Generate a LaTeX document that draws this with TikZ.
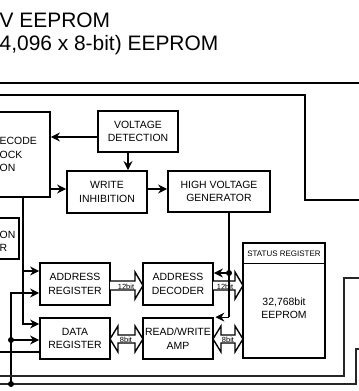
\documentclass[tikz,border=0pt]{standalone}
\usepackage{fontspec}
\setmainfont{Liberation Sans}
\usetikzlibrary{arrows.meta,calc}
\newcommand\busone[3]{%
  \draw[bus] (#1,#3-4.5) -- (#2-8,#3-4.5) -- (#2-8,#3-13.5) -- (#2,#3)
    -- (#2-8,#3+13.5) -- (#2-8,#3+4.5) -- (#1,#3+4.5);}
\newcommand\bustwo[3]{%
  \draw[bus] (#1+8,#3-4) -- (#2-8,#3-4) -- (#2-8,#3-13) -- (#2,#3)
    -- (#2-8,#3+13) -- (#2-8,#3+4) -- (#1+8,#3+4) -- (#1+8,#3+13)
    -- (#1,#3) -- (#1+8,#3-13) -- cycle;}
\begin{document}
\begin{tikzpicture}[x=1bp,y=-1bp,
  box/.style={draw,line width=1.8bp,inner sep=0,align=center,
    font=\fontsize{10.5}{13.5}\selectfont},
  txt/.style={inner sep=0,font=\fontsize{10.5}{13.5}\selectfont},
  conn/.style={line width=1.1bp},
  arr/.style={conn,-{Stealth[length=9bp,width=9bp,inset=3bp]}},
  dot/.style={circle,fill,inner sep=0,minimum size=6bp},
  bus/.style={line width=1.4bp,fill=white,line join=miter},
  lbl/.style={inner sep=0,font=\fontsize{7.5}{8}\selectfont},
  bot/.style={line width=1.3bp,black!85}]
\useasboundingbox (0,0) rectangle (359,391);
\clip (0,0) rectangle (359,391);

% title
\node[anchor=base west,inner sep=0,font=\fontsize{21}{24}\selectfont] (t1) at (-0.5,27) {V EEPROM};
\node[anchor=base west,inner sep=0,font=\fontsize{21}{24}\selectfont] (t2) at (-0.5,50) {4,096 x 8-bit) EEPROM};

% frame lines
\coordinate (f0) at (0,83); \coordinate (f1) at (359,83);
\draw[line width=1.6bp] (f0) -- (f1);
\coordinate (a0) at (0,95); \coordinate (a1) at (305,95);
\coordinate (a2) at (305,200); \coordinate (a3) at (359,200);
\draw[conn] (a0) -- (a1) -- (a2) -- (a3);

% boxes
\node[box,minimum width=90bp,minimum height=85bp] (dec) at (5,154.5) {};
\node[txt,align=left,anchor=west] (dect) at (-0.5,154.5) {ECODE\\OCK\\ON};
\node[box,minimum width=50bp,minimum height=41bp] (onr) at (-6,238.5) {};
\node[txt,align=left,anchor=west] (onrt) at (-0.5,241.5) {ON\\R};
\node[box,minimum width=80bp,minimum height=41bp] (vd) at (138,131.5) {VOLTAGE\\DETECTION};
\node[box,minimum width=80bp,minimum height=42bp] (wi) at (107,192) {WRITE\\INHIBITION};
\node[box,minimum width=102bp,minimum height=41bp] (hv) at (219,191.5) {HIGH VOLTAGE\\GENERATOR};
\node[box,minimum width=70bp,minimum height=42bp] (ar) at (75,284) {ADDRESS\\REGISTER};
\node[box,minimum width=70bp,minimum height=42bp] (ad) at (178,284) {ADDRESS\\DECODER};
\node[box,minimum width=70bp,minimum height=41bp] (dr) at (75,338.5) {DATA\\REGISTER};
\node[box,minimum width=70bp,minimum height=41bp] (rw) at (178,338.5) {READ/WRITE\\AMP};
\node[box,minimum width=82bp,minimum height=115bp] (ee) at (284,300.5) {};
\draw[line width=1.2bp] ([yshift=-21bp]ee.north west) -- ([yshift=-21bp]ee.north east);
\node[inner sep=0,font=\fontsize{8}{9}\selectfont] (sr) at (284,254) {STATUS REGISTER};
\node[txt,align=center] (eet) at (284,308) {32,768bit\\EEPROM};

% upper connectors
\draw[arr] ([yshift=-5.5bp]vd.west) -- ([yshift=-5.5bp]vd.west -| dec.east);
\draw[arr] ([xshift=-10bp]vd.south) -- ([xshift=-10bp]vd.south |- wi.north);
\draw[arr] ([yshift=3bp]wi.west -| dec.east) -- ([yshift=3bp]wi.west);
\draw[arr] ([yshift=3bp]wi.east) -- ([yshift=3bp]wi.east -| hv.west);

% buses
\busone{110}{143}{285.5}
\busone{213}{243}{285.5}
\bustwo{110}{143}{339}
\bustwo{213}{243}{339}
\node[lbl] (b1) at (126,286.5) {12bit};
\node[lbl] (b2) at (225,286.5) {12bit};
\node[lbl] (b3) at (126,339.5) {8bit};
\node[lbl] (b4) at (228,339.5) {8bit};

% high voltage distribution
\coordinate (hvd) at ([xshift=10bp,yshift=11bp]hv.south |- ad.east);
\coordinate (hvb) at ([xshift=10bp]hv.south |- rw.north);
\draw[conn] ([xshift=10bp]hv.south) -- (hvb);
\draw[arr] (hvb) -- ([xshift=1.5bp]rw.north east);
\draw[arr] (hvd) -- (hvd -| ad.east);
\node[dot] at (hvd) {};

% left side
\coordinate (v1) at ([xshift=18bp]dec.south);
\draw[arr] (v1) |- ([yshift=14.5bp]dr.west);
\draw[arr] ([yshift=13bp]ar.west -| v1) -- ([yshift=13bp]ar.west);
\coordinate (d1) at (11,340);
\coordinate (d2) at (11,384);
\draw[arr] (d2) |- ([yshift=-9bp]ar.west);
\draw[arr] (d1) -- (d1 -| dr.west);
\coordinate (l0) at (0,352);
\draw[conn] (l0) -- (l0 -| dr.west);

% bottom lines
\coordinate (c0) at (0,376); \coordinate (c1) at (344,376);
\coordinate (c2) at (344,278); \coordinate (c3) at (359,278);
\draw[bot] (c0) -- (c1) -- (c2) -- (c3);
\coordinate (e0) at (0,384); \coordinate (e1) at (356,384);
\coordinate (e2) at (356,349); \coordinate (e3) at (359,349);
\draw[bot] (e0) -- (e1) -- (e2) -- (e3);
\node[dot] at (d1) {};
\node[dot] at (d2) {};
\end{tikzpicture}
\end{document}
